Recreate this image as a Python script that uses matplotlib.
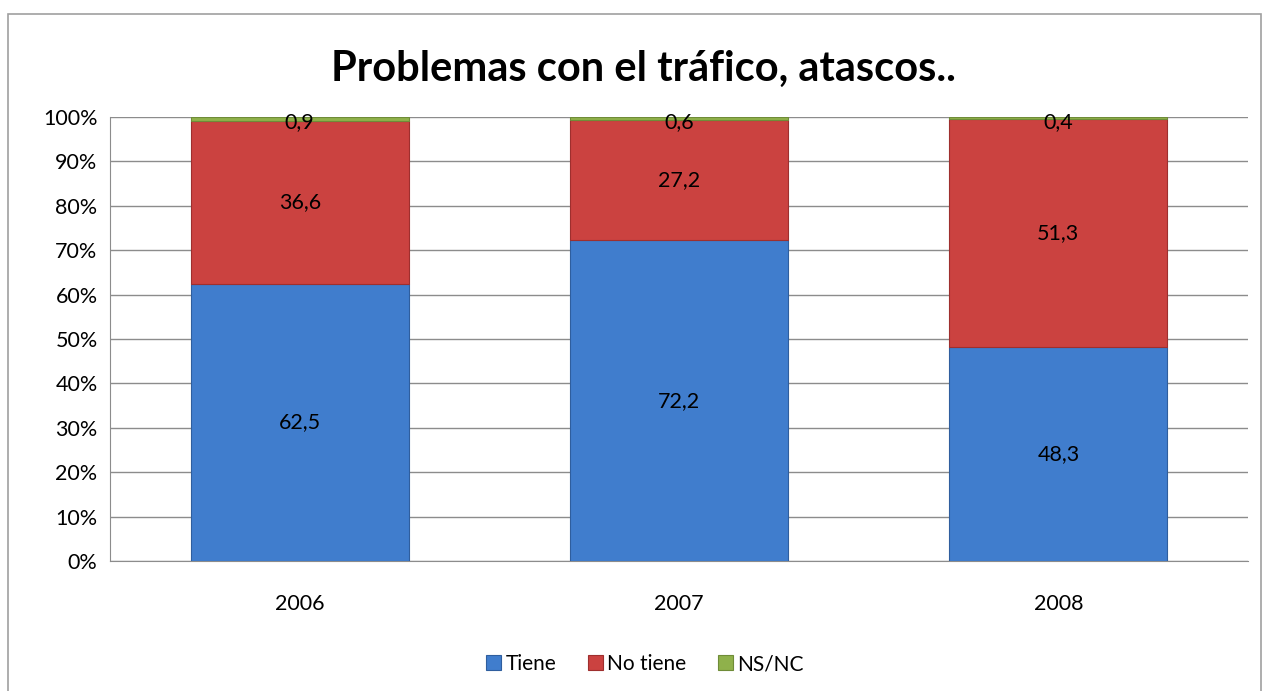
import matplotlib.pyplot as plt
import matplotlib.patches as mpatches
import numpy as np

years = ['2006', '2007', '2008']
tiene = [62.5, 72.2, 48.3]
no_tiene = [36.6, 27.2, 51.3]
nsnc = [0.9, 0.6, 0.4]

plt.rcParams['font.family'] = ['Lato', 'DejaVu Sans']

fig = plt.figure(figsize=(12.65, 6.91), dpi=100)
ax = fig.add_axes([0.087, 0.188, 0.8996, 0.6427])

# outer chart border
fig.patches.append(mpatches.Rectangle((0.0065, -0.01), 0.99, 0.99, transform=fig.transFigure,
                                      fill=False, edgecolor='#a0a0a0', lw=1.2))

x = np.arange(len(years))
w = 0.575
cols = ['#407DCD', '#CB4240', '#8FB14B']
edges = ['#2F5E9E', '#9E2F2E', '#6F8C38']
bottom = np.zeros(3)
for vals, c, ec, lab in zip([tiene, no_tiene, nsnc], cols, edges, ['Tiene', 'No tiene', 'NS/NC']):
    ax.bar(x, vals, w, bottom=bottom, color=c, label=lab, zorder=3,
           edgecolor=ec, lw=0.8)
    for i, v in enumerate(vals):
        if lab == 'NS/NC':
            y = 98.8
        else:
            y = bottom[i] + v / 2
        ax.text(x[i], y, str(v).replace('.', ','), ha='center', va='center',
                fontsize=15.5, zorder=5)
    bottom += np.array(vals)

ax.set_xlim(-0.5, 2.5)
ax.set_ylim(0, 100)
ax.set_yticks(np.arange(0, 101, 10))
ax.set_yticklabels([f'{v}%' for v in range(0, 101, 10)], fontsize=15.5)
ax.set_xticks(x)
ax.set_xticklabels(years, fontsize=15.5)
ax.tick_params(length=0, pad=9)
ax.tick_params(axis='x', pad=24)
ax.grid(axis='y', color='#8c8c8c', lw=1, zorder=0)
for s in ['top', 'right']:
    ax.spines[s].set_visible(False)
for s in ['left', 'bottom']:
    ax.spines[s].set_color('#8c8c8c')

fig.text(0.509, 0.90, 'Problemas con el tráfico, atascos..', ha='center', va='center',
         fontsize=30, fontweight='bold')

ax.legend(loc='center', bbox_to_anchor=(0.47, -0.232), ncol=3, frameon=False,
          fontsize=15, handlelength=0.75, handleheight=0.75, columnspacing=1.5,
          handletextpad=0.2)

fig.savefig('out.png', dpi=100)
